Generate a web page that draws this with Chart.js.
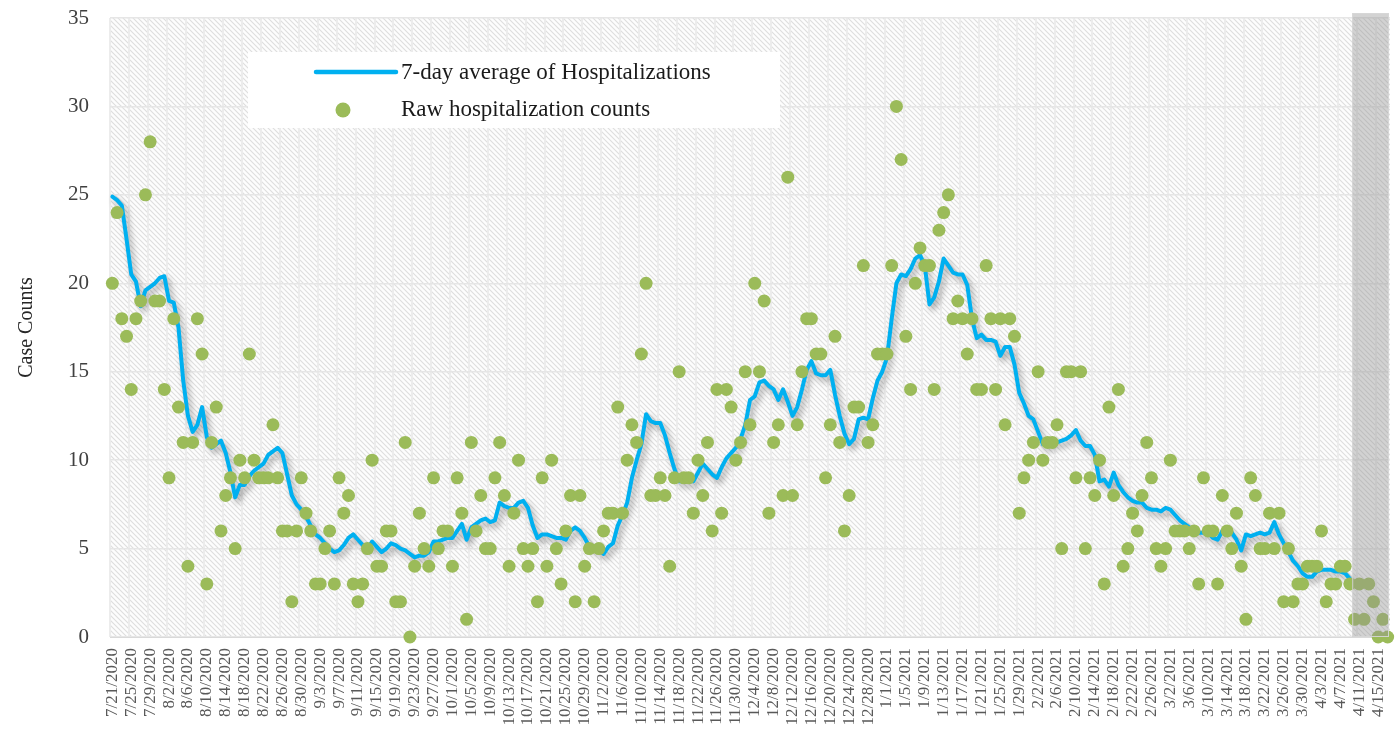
<!DOCTYPE html>
<html>
<head>
<meta charset="utf-8">
<script src="https://cdn.jsdelivr.net/npm/chart.js@4.4.1/dist/chart.umd.min.js"></script>
<style>
  html, body { margin: 0; padding: 0; background: #ffffff; }
  #wrap { position: relative; width: 1400px; height: 734px; }
</style>
</head>
<body>
<div id="wrap"><canvas id="hospChart" width="1400" height="734"></canvas></div>
<script>
// ---------------------------------------------------------
// Data
// ---------------------------------------------------------
const startDay = new Date(2020, 6, 21); // 7/21/2020, one category per day
const numDays = 271;                    // through 4/17/2021

const rawCounts = [
  20,24,18,17,14,18,19,25,28,19,
  19,14,9,18,13,11,4,11,18,16,
  3,11,13,6,8,9,5,10,9,16,
  10,9,9,9,12,9,6,6,2,6,
  9,7,6,3,3,5,6,3,9,7,
  8,3,2,3,5,10,4,4,6,6,
  2,2,11,0,4,7,5,4,9,5,
  6,6,4,9,7,1,11,6,8,5,
  5,9,11,8,4,7,10,5,4,5,
  2,9,4,10,5,3,6,8,2,8,
  4,5,2,5,6,7,7,13,7,10,
  12,11,16,20,8,8,9,8,4,9,
  15,9,9,7,10,8,11,6,14,7,
  14,13,10,11,15,12,20,15,19,7,
  11,12,8,26,8,12,15,18,18,16,
  16,9,12,17,11,6,8,13,13,21,
  11,12,16,16,16,21,30,27,17,14,
  20,22,21,21,14,23,24,25,18,19,
  18,16,18,14,14,21,18,14,18,12,
  18,17,7,9,10,11,15,10,11,11,
  12,5,15,15,9,15,5,9,8,10,
  3,13,8,14,4,5,7,6,8,11,
  9,5,4,5,10,6,6,6,5,6,
  3,9,6,6,3,8,6,5,7,4,
  1,9,8,5,5,7,5,7,2,5,
  2,3,3,4,4,4,6,2,3,3,
  4,4,3,1,3,1,3,2,0,1,0
];

const avg7 = [
  24.9,24.7,24.4,22.5,20.5,20.1,18.7,19.6,19.8,20.0,
  20.3,20.4,19.0,18.9,17.5,14.5,12.5,11.6,12.0,13.0,
  11.3,10.7,10.9,11.1,10.4,9.3,7.9,8.6,8.6,9.1,
  9.4,9.6,9.8,10.3,10.5,10.7,10.4,9.2,8.0,7.5,
  7.2,6.8,6.3,5.8,5.6,5.3,5.0,4.8,4.9,5.2,
  5.6,5.8,5.5,5.2,5.0,5.4,5.1,4.8,5.0,5.3,
  5.2,5.0,4.9,4.7,4.5,4.6,4.6,4.8,5.4,5.4,
  5.5,5.6,5.6,6.0,6.4,5.5,6.2,6.4,6.6,6.7,
  6.5,6.6,7.6,7.4,7.3,7.3,7.6,7.7,7.3,6.3,
  5.6,5.8,5.8,5.7,5.6,5.6,5.5,6.0,6.2,6.0,
  5.6,5.1,5.0,4.9,4.7,5.1,5.3,6.3,6.9,7.6,
  9.0,10.0,10.9,12.6,12.2,12.1,12.1,11.4,10.4,9.5,
  8.8,8.8,8.8,8.8,9.3,9.8,9.5,9.2,9.0,9.6,
  10.1,10.4,10.7,11.2,12.0,13.4,13.6,14.4,14.5,14.2,
  14.0,13.4,14.0,13.3,12.5,13.0,14.0,15.1,15.6,14.9,
  14.8,14.8,15.1,13.7,12.5,11.5,10.9,11.2,12.3,12.4,
  12.3,13.5,14.5,15.0,15.8,18.0,20.0,20.5,20.4,20.8,
  21.4,21.6,21.0,18.8,19.2,20.1,21.4,21.0,20.6,20.5,
  20.5,19.9,18.0,16.9,17.1,16.8,16.8,16.7,15.9,16.4,
  16.4,15.4,13.8,13.2,12.5,12.3,11.6,10.9,10.8,11.1,
  11.0,11.1,11.2,11.4,11.7,11.1,10.8,10.8,10.3,8.8,
  8.9,8.5,9.3,8.6,8.2,7.9,7.7,7.6,7.6,7.3,
  7.2,7.2,7.1,7.3,7.2,6.9,6.6,6.4,6.2,6.0,
  5.9,5.9,5.9,5.6,5.5,6.0,6.2,5.9,5.5,4.9,
  5.8,5.7,5.8,5.9,5.8,5.9,6.5,5.8,5.3,4.8,
  4.3,4.0,3.6,3.4,3.4,3.7,3.8,3.8,3.8,3.7,
  3.7,3.6,3.3,null,null,null,null,null,null,null,
  null
];

const yTicks = [0, 5, 10, 15, 20, 25, 30, 35];
const seriesNames = ['7-day average of Hospitalizations', 'Raw hospitalization counts'];
const incompleteFrom = '4/10/2021'; // grey box over the last, still-incomplete days

// date labels, one per day
const dayLabels = [];
for (let i = 0; i < numDays; i++) {
  const d = new Date(startDay.getFullYear(), startDay.getMonth(), startDay.getDate() + i);
  dayLabels.push((d.getMonth() + 1) + '/' + d.getDate() + '/' + d.getFullYear());
}

// ---------------------------------------------------------
// Estilos
// ---------------------------------------------------------
const FONT = "'Liberation Serif', 'Times New Roman', serif";
const BLUE = '#00b0f0';
const GREEN = '#9bbb59';

function hatchPattern(ctx) {
  const s = 5;
  const tile = document.createElement('canvas');
  tile.width = s; tile.height = s;
  const t = tile.getContext('2d');
  t.fillStyle = '#fdfdfd';
  t.fillRect(0, 0, s, s);
  t.strokeStyle = '#dedede';
  t.lineWidth = 1.1;
  t.beginPath();
  t.moveTo(0, 0); t.lineTo(s, s);
  t.moveTo(-1, s - 1); t.lineTo(1, s + 1);
  t.moveTo(s - 1, -1); t.lineTo(s + 1, 1);
  t.stroke();
  return ctx.createPattern(tile, 'repeat');
}

// fondo rayado del area de trazado
const plotBackground = {
  id: 'plotBackground',
  beforeDraw(chart) {
    const { ctx, chartArea: a } = chart;
    ctx.save();
    ctx.fillStyle = hatchPattern(ctx);
    ctx.fillRect(a.left, a.top, a.right - a.left, a.bottom - a.top);
    ctx.restore();
  }
};

// sombra bajo la linea azul
const lineShadow = {
  id: 'lineShadow',
  beforeDatasetDraw(chart, args) {
    if (args.index !== 0) return;
    const ctx = chart.ctx;
    ctx.save();
    ctx.shadowColor = 'rgba(0,0,0,0.35)';
    ctx.shadowBlur = 6;
    ctx.shadowOffsetX = 3;
    ctx.shadowOffsetY = 4;
  },
  afterDatasetDraw(chart, args) {
    if (args.index !== 0) return;
    chart.ctx.restore();
  }
};

// caja gris sobre los ultimos dias
const incompleteBox = {
  id: 'incompleteBox',
  afterDatasetsDraw(chart) {
    const { ctx, chartArea: a, scales: { x } } = chart;
    const idx = dayLabels.indexOf(incompleteFrom);
    const half = (x.getPixelForValue(1) - x.getPixelForValue(0)) / 2;
    const left = x.getPixelForValue(idx) - half;
    ctx.save();
    ctx.fillStyle = 'rgba(150,150,150,0.42)';
    ctx.fillRect(left, a.top - 5, a.right - 1 - left, a.bottom - a.top + 5);
    ctx.strokeStyle = 'rgba(215,215,215,0.9)';
    ctx.lineWidth = 1;
    ctx.strokeRect(left + 0.5, a.top - 4.5, a.right - 2 - left, a.bottom - a.top + 4);
    ctx.restore();
  }
};

// leyenda dentro del grafico
const boxLegend = {
  id: 'boxLegend',
  afterDraw(chart) {
    const ctx = chart.ctx;
    const bx = 248, by = 52, bw = 532, bh = 76;
    ctx.save();
    ctx.fillStyle = '#ffffff';
    ctx.fillRect(bx, by, bw, bh);

    ctx.strokeStyle = BLUE;
    ctx.lineWidth = 4.5;
    ctx.lineCap = 'round';
    ctx.beginPath();
    ctx.moveTo(316, 72); ctx.lineTo(396, 72);
    ctx.stroke();

    ctx.fillStyle = GREEN;
    ctx.beginPath();
    ctx.arc(343, 110, 7.5, 0, Math.PI * 2);
    ctx.fill();

    ctx.fillStyle = '#1a1a1a';
    ctx.font = '23px ' + FONT;
    ctx.textBaseline = 'middle';
    ctx.textAlign = 'left';
    ctx.fillText(chart.data.datasets[0].label, 401, 73);
    ctx.fillText(chart.data.datasets[1].label, 401, 110);
    ctx.restore();
  }
};

// ---------------------------------------------------------
// Grafico
// ---------------------------------------------------------
const ctxHosp = document.getElementById('hospChart').getContext('2d');
new Chart(ctxHosp, {
  type: 'line',
  data: {
    labels: dayLabels,
    datasets: [
      {
        label: seriesNames[0],
        data: avg7,
        borderColor: BLUE,
        borderWidth: 4,
        pointRadius: 0,
        tension: 0,
        borderJoinStyle: 'round',
        borderCapStyle: 'round',
        spanGaps: false,
        order: 2
      },
      {
        label: seriesNames[1],
        data: rawCounts,
        showLine: false,
        pointRadius: 6.5,
        pointHoverRadius: 6.5,
        pointBackgroundColor: GREEN,
        pointBorderWidth: 0,
        backgroundColor: GREEN,
        clip: false,
        order: 1
      }
    ]
  },
  options: {
    responsive: false,
    animation: false,
    layout: { padding: { left: 0, right: 10, top: 18, bottom: 0 } },
    plugins: {
      legend: { display: false },
      tooltip: { enabled: false }
    },
    scales: {
      x: {
        offset: true,
        grid: {
          offset: true,
          drawTicks: false,
          lineWidth: 2,
          color: c => (c.index % 4 === 0 ? '#ececec' : 'rgba(0,0,0,0)')
        },
        border: { color: '#d9d9d9', width: 1 },
        ticks: {
          autoSkip: false,
          maxRotation: 90,
          minRotation: 90,
          padding: 11,
          color: '#595959',
          font: { family: FONT, size: 17 },
          callback: function (val, index) {
            return index % 4 === 0 ? this.getLabelForValue(val) : '';
          }
        },
        afterFit: s => { s.height = 97; s.paddingLeft = 0; s.paddingRight = 0; }
      },
      y: {
        min: 0,
        max: 35,
        afterBuildTicks: s => { s.ticks = yTicks.map(v => ({ value: v })); },
        grid: { color: '#e6e6e6', lineWidth: 1.5, drawTicks: false },
        border: { display: false },
        ticks: {
          padding: 21,
          color: '#404040',
          font: { family: FONT, size: 21 }
        },
        title: {
          display: true,
          text: 'Case Counts',
          color: '#262626',
          font: { family: FONT, size: 20 },
          padding: { top: 15, bottom: 0 }
        },
        afterFit: s => { s.width = 110; s.paddingTop = 0; s.paddingBottom = 0; }
      }
    }
  },
  plugins: [plotBackground, lineShadow, incompleteBox, boxLegend]
});
</script>
</body>
</html>
